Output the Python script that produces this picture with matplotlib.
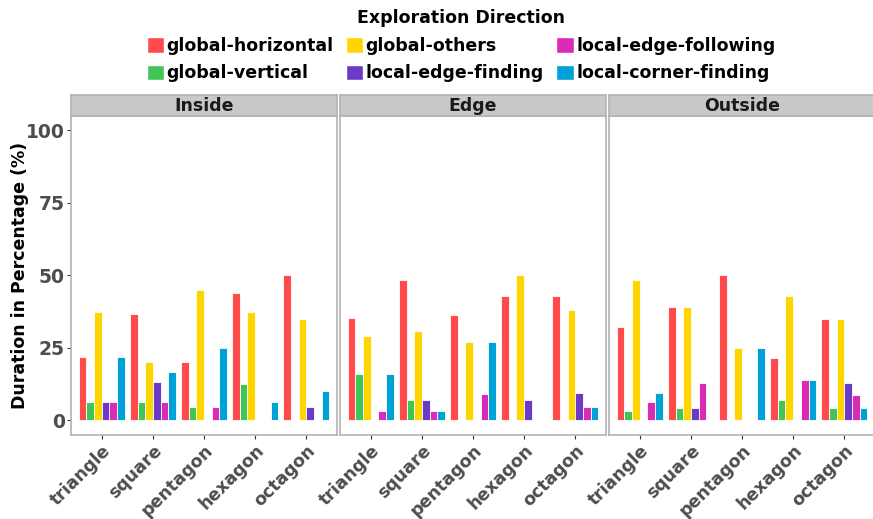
import matplotlib
matplotlib.use("Agg")
import matplotlib.pyplot as plt
from matplotlib.patches import Patch
import numpy as np

# Datos
shapes = ["triangle", "square", "pentagon", "hexagon", "octagon"]
panels = ["Inside", "Edge", "Outside"]
directions = ["global-horizontal", "global-vertical", "global-others",
              "local-edge-finding", "local-edge-following", "local-corner-finding"]
colors = ["#FF4B4B", "#40C657", "#FFD500", "#6B3AC9", "#D92AB8", "#00A1D7"]

inside = {
    "global-horizontal":    [22.0, 36.7, 20.0, 43.8, 50.0],
    "global-vertical":      [6.2, 6.5, 4.8, 12.5, 0],
    "global-others":        [37.5, 20.0, 45.0, 37.5, 35.0],
    "local-edge-finding":   [6.2, 13.3, 0, 0, 4.8],
    "local-edge-following": [6.2, 6.5, 4.8, 0, 0],
    "local-corner-finding": [22.0, 16.7, 25.0, 6.2, 10.0],
}
edge = {
    "global-horizontal":    [35.4, 48.3, 36.2, 42.9, 42.9],
    "global-vertical":      [16.1, 6.9, 0, 0, 0],
    "global-others":        [29.0, 31.0, 27.2, 50.0, 38.1],
    "local-edge-finding":   [0, 6.9, 0, 7.1, 9.5],
    "local-edge-following": [3.2, 3.4, 9.1, 0, 4.8],
    "local-corner-finding": [16.1, 3.4, 27.2, 0, 4.8],
}
outside = {
    "global-horizontal":    [32.2, 39.1, 50.0, 21.4, 34.8],
    "global-vertical":      [3.2, 4.4, 0, 7.0, 4.4],
    "global-others":        [48.3, 39.1, 25.0, 42.9, 34.8],
    "local-edge-finding":   [0, 4.4, 0, 0, 13.0],
    "local-edge-following": [6.4, 13.0, 0, 14.1, 8.7],
    "local-corner-finding": [9.6, 0, 25.0, 14.1, 4.4],
}
datos = [inside, edge, outside]

gris_txt = "#4D4D4D"
gris_borde = "#B3B3B3"

fig = plt.figure(figsize=(8.73, 5.19), dpi=100)
W, H = 873.0, 519.0

# posiciones de los paneles en pixeles
x_izq = [71, 340, 609]
ancho = 266
y_abajo = 435
y_arriba = 115.7
y_strip = 95

x = np.arange(1, len(shapes) + 1)
bw = 0.9 / len(directions)

for i, (nombre, d) in enumerate(zip(panels, datos)):
    ax = fig.add_axes([x_izq[i] / W, 1 - y_abajo / H, ancho / W, (y_abajo - y_arriba) / H])
    for j, dirn in enumerate(directions):
        pos = x - 0.45 + bw * (j + 0.5)
        ax.bar(pos, d[dirn], width=bw, color=colors[j], edgecolor="white", linewidth=0.6)
    ax.set_xlim(0.4, 5.6)
    ax.set_ylim(-5, 105)
    ax.set_xticks(x)
    ax.set_xticklabels(shapes, rotation=45, ha="right", va="top", rotation_mode="anchor",
                       fontsize=12.5, fontweight="bold", color=gris_txt)
    ax.set_yticks([0, 25, 50, 75, 100])
    ax.tick_params(axis="both", color="#333333", length=3, width=0.8, pad=1.5)
    if i == 0:
        ax.set_yticklabels(["0", "25", "50", "75", "100"], fontsize=13.5,
                           fontweight="bold", color=gris_txt)
    else:
        ax.set_yticklabels([])
        ax.tick_params(axis="y", length=0)
    for s in ax.spines.values():
        s.set_color(gris_borde)
        s.set_linewidth(1.2)

    # tira gris del facet
    st = fig.add_axes([x_izq[i] / W, 1 - y_arriba / H, ancho / W, (y_arriba - y_strip) / H])
    st.set_facecolor("#C8C8C8")
    st.set_xticks([])
    st.set_yticks([])
    for s in st.spines.values():
        s.set_color(gris_borde)
        s.set_linewidth(1.2)
    st.text(0.5, 0.45, nombre, ha="center", va="center", fontsize=12.5,
            fontweight="bold", color="#1A1A1A", transform=st.transAxes)

fig.text(20 / W, 1 - 275 / H, "Duration in Percentage (%)", rotation=90, ha="center",
         va="center", fontsize=12.5, fontweight="bold")

handles = [Patch(facecolor=c, edgecolor="white", label=l) for c, l in zip(colors, directions)]
fig.legend(handles=handles, ncol=3, loc="upper center", bbox_to_anchor=(0.528, 1.012),
           frameon=False, title="Exploration Direction",
           title_fontproperties={"weight": "bold", "size": 12.5},
           prop={"weight": "bold", "size": 12.5}, handlelength=1.0, handleheight=1.0,
           handletextpad=0.15, columnspacing=0.7, labelspacing=0.55)

fig.savefig("out.png", dpi=100)
